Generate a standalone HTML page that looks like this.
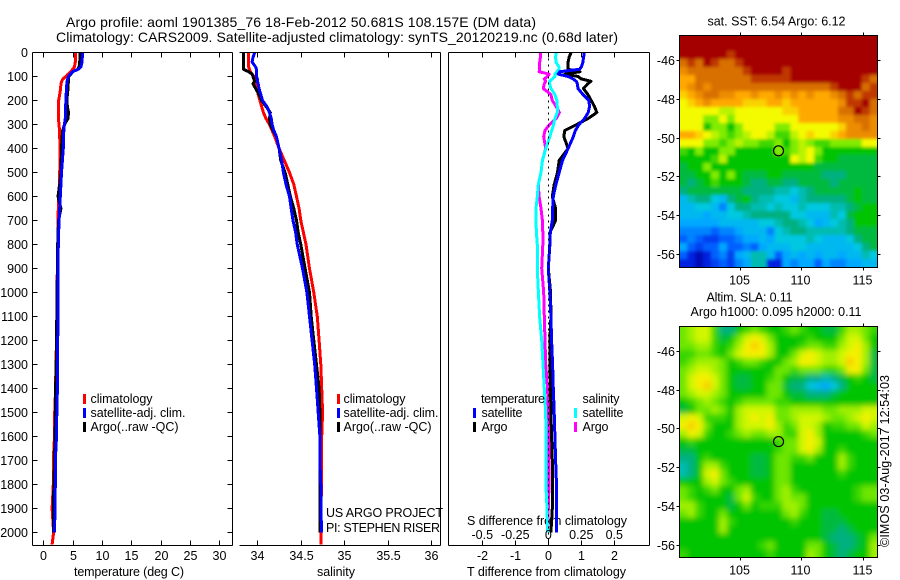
<!DOCTYPE html>
<html lang="en">
<head>
<meta charset="utf-8">
<title>Argo profile 1901385_76</title>
<style>
html,body{margin:0;padding:0;background:#fff;width:900px;height:580px;overflow:hidden}
svg{display:block}
text{font-family:"Liberation Sans",sans-serif;font-size:12.5px;fill:#000}
.axl{shape-rendering:crispEdges;stroke:#000;stroke-width:1;fill:none}
</style>
</head>
<body>
<svg id="fig" xmlns="http://www.w3.org/2000/svg" width="900" height="580" viewBox="0 0 900 580">
<defs>
<clipPath id="clip-sst"><rect x="679.5" y="35.5" width="198" height="232"/></clipPath>
<clipPath id="clip-sla"><rect x="679.5" y="326" width="198" height="231.5"/></clipPath>
<filter id="soft" x="-10%" y="-10%" width="120%" height="120%"><feGaussianBlur stdDeviation="3"/></filter>
<filter id="soft-sst" x="-10%" y="-10%" width="120%" height="120%"><feGaussianBlur stdDeviation="1.6"/></filter>
</defs>
<text x="66" y="27" textLength="470" style="font-size:14px">Argo profile: aoml 1901385_76 18-Feb-2012 50.681S 108.157E (DM data)</text>
<text x="56" y="42" textLength="562" style="font-size:14px">Climatology: CARS2009. Satellite-adjusted climatology: synTS_20120219.nc (0.68d later)</text>

<text x="74" y="576" textLength="110">temperature (deg C)</text>
<text x="317" y="576" textLength="38">salinity</text>
<text x="467" y="576" textLength="159">T difference from climatology</text>
<text x="467" y="525" textLength="160">S difference from climatology</text>

<g id="plots"></g>

<g>
<rect x="83" y="394" width="3" height="10" fill="#f00"/>
<text x="90.5" y="403" textLength="62">climatology</text>
<rect x="83" y="408" width="3" height="10" fill="#00f"/>
<text x="90.5" y="417" textLength="95">satellite-adj. clim.</text>
<rect x="83" y="422" width="3" height="10" fill="#000"/>
<text x="90.5" y="431" textLength="88">Argo(..raw -QC)</text>
</g>
<g>
<rect x="337" y="394" width="3" height="10" fill="#f00"/>
<text x="343.5" y="403" textLength="62">climatology</text>
<rect x="337" y="408" width="3" height="10" fill="#00f"/>
<text x="343.5" y="417" textLength="95">satellite-adj. clim.</text>
<rect x="337" y="422" width="3" height="10" fill="#000"/>
<text x="343.5" y="431" textLength="88">Argo(..raw -QC)</text>
</g>
<text x="326" y="517" textLength="117">US ARGO PROJECT</text>
<text x="326" y="532" textLength="114">PI: STEPHEN RISER</text>
<g>
<text x="481" y="403" textLength="64">temperature</text>
<text x="582.5" y="403" textLength="37">salinity</text>
<rect x="473" y="408" width="3" height="10" fill="#00f"/>
<text x="481.5" y="417" textLength="41">satellite</text>
<rect x="473" y="422" width="3" height="10" fill="#000"/>
<text x="481.5" y="431" textLength="26">Argo</text>
<rect x="574" y="408" width="3" height="10" fill="#0ff"/>
<text x="582.5" y="417" textLength="41">satellite</text>
<rect x="574" y="422" width="3" height="10" fill="#f0f"/>
<text x="582.5" y="431" textLength="26">Argo</text>
</g>

<text x="707.5" y="25.5" textLength="138">sat. SST: 6.54 Argo: 6.12</text>
<text x="706.5" y="301.5" textLength="86">Altim. SLA: 0.11</text>
<text x="690.5" y="316" textLength="171">Argo h1000: 0.095 h2000: 0.11</text>
<g id="maps"></g>
<text transform="translate(889,547) rotate(-90)" x="0" y="0" textLength="172">©IMOS 03-Aug-2017 12:54:03</text>
</svg>

<script>
const depths = [0,20,40,60,70,80,90,100,110,120,130,150,175,200,225,250,275,300,325,350,400,450,500,550,600,650,700,750,800,900,1000,1100,1200,1300,1400,1500,1600,1700,1800,1900,2000,2050];

const tempClim = [5.5,5.5,5.45,5.3,5.0,4.7,4.2,3.85,3.35,3.15,3.0,2.95,2.8,2.6,2.55,2.55,2.55,2.7,2.75,2.8,2.85,2.85,2.8,2.75,2.6,2.55,2.5,2.5,2.45,2.4,2.3,2.3,2.25,2.15,2.1,1.95,1.9,1.7,1.7,1.5,1.75,1.5];
const tempSat = [6.65,6.65,6.6,6.4,5.95,5.0,4.6,4.3,4.15,4.05,4.0,3.95,3.9,3.85,3.8,3.8,3.75,3.6,3.5,3.45,3.4,3.25,3.1,3.0,2.9,2.8,2.7,2.6,2.55,2.5,2.5,2.5,2.45,2.4,2.4,2.3,2.25,2.05,2.05,2.0,1.9,null];
const tempArgo = [6.25,6.25,6.2,6.1,5.9,5.0,4.7,4.3,4.3,4.3,4.25,4.2,4.1,4.0,4.1,4.3,4.2,3.6,3.3,3.2,3.1,3.05,3.0,2.8,2.5,3.0,2.6,2.5,2.45,2.4,2.35,2.3,2.25,2.2,2.1,2.1,2.0,1.9,1.8,1.7,1.7,null];

const salClim = [33.9,33.9,33.9,33.9,33.91,33.92,33.94,33.96,33.97,33.98,33.99,34.0,34.01,34.03,34.05,34.07,34.1,34.14,34.17,34.2,34.25,34.31,34.37,34.42,34.45,34.48,34.5,34.53,34.56,34.6,34.65,34.69,34.71,34.73,34.74,34.75,34.74,34.74,34.74,34.73,34.73,34.73];
const salSat = [33.97,33.95,33.94,33.98,33.99,33.99,33.99,33.99,34.0,34.0,34.01,34.02,34.04,34.06,34.11,34.14,34.16,34.17,34.19,34.22,34.25,34.28,34.3,34.33,34.37,34.39,34.41,34.44,34.46,34.52,34.57,34.6,34.63,34.66,34.68,34.7,34.72,34.72,34.73,34.73,34.74,null];
const salArgo = [33.84,33.84,33.84,33.84,33.84,33.9,33.94,33.95,33.96,33.97,33.95,33.98,34.02,34.05,34.1,34.15,34.14,34.15,34.18,34.22,34.25,34.27,34.32,34.35,34.38,34.42,34.45,34.47,34.5,34.55,34.6,34.62,34.65,34.68,34.71,34.72,34.72,34.72,34.72,34.72,34.72,null];

const tDiffSat = [1.09,1.07,1.05,1.0,0.95,0.35,0.3,0.6,0.75,0.85,0.88,0.9,1.05,1.23,1.25,1.21,1.1,0.93,0.82,0.76,0.6,0.43,0.33,0.23,0.15,0.13,0.12,0.06,0.05,0,0.05,0.08,0.1,0.13,0.15,0.18,0.2,0.22,0.25,0.25,0.25,null];
const tDiffArgo = [0.69,0.63,0.6,0.59,0.6,0.96,0.5,0.9,1.0,1.29,1.2,1.06,1.2,1.3,1.4,1.47,1.21,0.86,0.5,0.47,0.6,0.33,0.28,0.18,0.12,0.22,0.22,0.05,0.05,0,0.07,0.08,0.05,0.05,0.07,0.08,0.1,0.12,0.12,0.12,0.08,null];
const sDiffSat = [0.058,0.055,0.058,0.08,0.08,0.065,0.05,0.05,0.03,0.01,0.01,0.02,0.05,0.065,0.068,0.068,0.05,0.04,0.025,0.0125,-0.018,-0.045,-0.055,-0.076,-0.083,-0.093,-0.093,-0.09,-0.083,-0.083,-0.075,-0.066,-0.05,-0.04,-0.03,-0.02,-0.018,-0.018,-0.018,-0.01,-0.005,null];
const sDiffArgo = [-0.06,-0.06,-0.065,-0.065,-0.065,-0.07,0.005,-0.005,-0.03,-0.02,-0.03,-0.038,0.02,0.03,0.06,0.083,0.06,0.01,-0.025,-0.035,-0.02,-0.045,-0.055,-0.076,-0.07,-0.055,-0.045,-0.042,-0.042,-0.05,-0.035,-0.03,-0.025,-0.02,-0.005,0,0.005,0.005,0.005,0,-0.005,null];

const depthTicks = [0,100,200,300,400,500,600,700,800,900,1000,1100,1200,1300,1400,1500,1600,1700,1800,1900,2000];
const tempTicks = [0,5,10,15,20,25,30];
const salTicks = [34,34.5,35,35.5,36];
const tDiffTicks = [-2,-1,0,1,2];
const sDiffTickLabels = ["-0.5","-0.25","0","0.25","0.5"];
const sDiffTicks = [-0.5,-0.25,0,0.25,0.5];
const lonTicks = [105,110,115];
const latTicks = [-46,-48,-50,-52,-54,-56];
const argoLon = 108.157;
const argoLat = -50.681;

const paletteLevels = ["#000090","#0020e0","#0060ff","#00a8ff","#00c8e0","#00b080","#00c400","#80ec00","#f4fa00","#ffa800","#d87000","#a50000"];

const sstGrid = [
[11,11,11,11,11,11,11,11,11,11,11,11,11,11,11,11,11,11,11,11,11,11,11,11,11],
[11,11,11,11,11,11,11,11,11,11,11,11,11,11,11,11,11,11,11,11,11,11,11,11,11],
[11,11,11,11,11,11,10.5,11,11,11,11,11,11,11,11,11,11,11,11,11,11,11,11,11,11],
[10,10.5,10,11,10.5,10,10,10.5,11,11,11,11,11,11,11,11,11,11,11,11,11,11,11,11,11],
[9.5,10,10,10,10,10,10,10,10.5,11,11,11,11,10.5,11,11,11,11,11,11,11,11,11,11,11],
[9,9,10,10,10,10,10,10,10,10.5,10.5,10.5,10.5,10.5,11,11,11,11,11,11,11,11,11,10.5,10],
[9,9.5,10,9.5,10,10,10,10,10,10,10,10,10,10,10,10,10,10,10,10.5,11,11,11,10,10.5],
[8.5,9,9.5,10,10,9.5,9.5,9,9,9.5,9,9,9.5,9,9.5,9,9.5,9,9,9.5,10,10.5,10,10.5,10.5],
[8,8.5,9,9.5,9,9,9,9,8.5,8.5,8.5,9,9,8.5,9,9,9,9,9,9,9.5,10.5,10.5,11,10],
[8,8,8,8,8,7.5,7.5,8,8,8,8,8,8,8.5,8.5,9,9,9,9,9,10,10,11,10.5,10],
[8,8,8,7,7,8,7,8,8,8,8,8,8,8,8,9,9,9,9,9,9.5,9.5,10,10,9.5],
[8,8,8,6,7,7,6,7,8,8,8,8,7,7,8,8,8,8,8,8,8.5,9.5,9.5,10,9.5],
[9,9,8.5,8,7.5,7,6.5,7,7.5,8,8,7.5,6.5,6.5,7.5,8,8.5,8,8,8.5,9,9.5,9.5,9.5,9.5],
[8,8,8,7,7,6.5,7,7.5,7,7,6.5,6.5,7,6,7,7.5,7,6.5,6.5,7,7,7,7,8,8],
[6.5,6,7,6,6,7,7,6,6,6,6,6,7,6.5,7,7.5,8,7,6,6,6,6,6,6,6],
[6,6,6,6,6.5,7.5,6,6,6,6,6,6,6,6,8,7.5,8,6.5,6,6,5.5,5.5,5.5,5.5,5.5],
[5.5,6,6,7,6,6,6,6,6,6,6,6,6,6,6,6,6,5.5,5.5,5.5,5.5,5.5,5.5,5.5,5.5],
[5.5,5.5,6,6,7,6,7,6,5.5,5.5,5.5,6,6,5.5,5.5,5.5,5.5,5.5,5,5,5,5.5,5.5,5.5,5.5],
[5.5,5,5.5,6,6.5,6,6,6,5.5,5,5,5.5,5.5,5,5,5.5,5.5,5.5,5.5,5,5.5,5.5,5.5,5.5,5.5],
[5,5.5,5.5,5.5,5.5,5.5,5.5,5.5,5,5,5,5,4.5,4.5,4,4.5,5,5.5,5.5,5.5,5.5,5.5,6,5.5,5.5],
[3.5,4.5,5,5,4,3.5,5,5.5,6,5,4.5,4.5,4,4,3.5,4.5,5,5,5,5,5,5.5,6,5.5,5.5],
[3.5,3.5,4,4,3.5,2.5,4,5,5,4.5,4.5,4,4.5,4,4,4.5,4,4,4,4.5,4.5,5,5.5,6,6],
[3.5,3.5,3.5,3,3.5,3.5,4,4,4.5,5,5,5,5,5,4,4,3.5,3.5,3.5,4.5,4,5.5,6,6,6],
[3,3,3,3,3,3.5,3.5,3.5,3.5,3.5,4,4,4.5,5,5,4.5,4,3,3.5,4,4.5,5,6,6,6],
[2.5,2.5,2.5,2.5,2,2.5,2.5,3,3.5,3.5,3.5,2.5,4,4.5,5,5,4.5,4.5,4.5,4.5,4.5,5,5.5,5.5,5.5],
[2,2.5,2,1.5,1.5,2,2,2.5,3,3,3.5,3,4,4,4,4,4.5,4,3.5,3.5,3.5,4,5,5.5,5.5],
[3,2,1.5,2,2,3,2,2,2.5,2,3,3.5,3.5,3.5,4,4,3.5,3.5,3.5,3.5,3.5,3.5,4,5,5.5],
[2,1,0.5,1,2,2.5,1.5,3,3.5,4.5,4.5,3.5,2,3,3.5,3,3.5,3,3.5,3.5,3,3.5,3.5,4.5,4],
[1,1,0.5,1,1.5,2,1.5,2.5,3,4.5,4.5,1,1,3,2.5,3,3,2,3,2.5,2.5,3,3,3.5,3.5]
];

const slaGrid = [
[7,7.5,8,8,6.5,5,5,6,6.5,7,6.5,6,6,6.5,7,6.5,6,6,5.5,5.5,6.5,7.5,7.5,7,6.5],
[7,7.5,8,8,6.5,5.5,6,7,8,8.5,8,7,6,6,6,6,6.5,6,6,6,7,8,8,7,6],
[7,7,7.5,7.5,6.5,6,6.5,7.5,8.5,9,8.5,7.5,6,6,6,6.5,7,7,6.5,6.5,7.5,8,8.5,7.5,6],
[6.5,6.5,7,7,6.5,6,7,8,8.5,8.5,8.5,7.5,6,6,7,8,8.5,8,7.5,7.5,8,8.5,8.5,7.5,5.5],
[6.5,7,7.5,7.5,7.5,7,6,6.5,7,7,6.5,6,6,7,7.5,8.5,8.5,8,7.5,7.5,8,9,8.5,7.5,5.5],
[7,7.5,8,8,7.5,7,6,6,6,6,6,6,7,7,6.5,7,7,7,6.5,6.5,7,8.5,8.5,7,5.5],
[7,8,8.5,8.5,8,7,6,5.5,5.5,6,6,6.5,7,6,5.5,5.5,5,5,4.5,5,5.5,6,6.5,6,5.5],
[7,8,8.5,9,8,7,6,5.5,5.5,6,6,7,7,5.5,5,5,4,3.5,3,4,5,6,6,6,6],
[7,7.5,8,8,7.5,7,6,6,6,6,6,7,7,6,5.5,5.5,5,5,5,5.5,6,6,6,6,6],
[6,6.5,7,7.5,7,6.5,6,6.5,7,7,7,7,6.5,6.5,6,6,6,6,6,6,6,6,6,6,6],
[5.5,6,7,7,7.5,7,6,7.5,8,8,8,8,7,7,7.5,7.5,7.5,7.5,7,7,7.5,7.5,7.5,8,8],
[8,8.5,8,6.5,6.5,6.5,6,7.5,8,8.5,8,8.5,7,7,7.5,8,8,8,7.5,7,7,7.5,8,8.5,8],
[8.5,9,8.5,7,6,6,6,7.5,8,8,8,8.5,7.5,6.5,7,8,8,7.5,6,6.5,6.5,7,7,8,7.5],
[7.5,8.5,8,6.5,6,6,6.5,7,7.5,7,7,7.5,7.5,6.5,6.5,8,8.5,7.5,6,6,6,6,6,6.5,7],
[6,6.5,6,6,6,6,6,6,6,6,6,6,6.5,7,7,8,8.5,8,6,6,6,6,6,6,6],
[5.5,5.5,6,6,6,6,6,6,6,6,6,6,6.5,7,7,8,8.5,7.5,6,6,6.5,6,6,6,6],
[5,5,6,6.5,6,6,6,6,6,5.5,5.5,6,7,7,6.5,6.5,7,6,6,6,7.5,6.5,6,6,6],
[4.5,5,6,7.5,7.5,6.5,6,6,6,5.5,5.5,6,7,7,6,6,6,6,6,6,7.5,6.5,6,6,6],
[4.5,5,6,8,8.5,7,6,6,6,5.5,5.5,6,7,7,6,6,6,6,6,6,6.5,6,6,6,6],
[6,6,6,7.5,8,7,6.5,6,6,6,6,6,7,7,6,6,6,6,6,6,6,6,6,6,6],
[7,6.5,6,6.5,7,6,6,7,7.5,6,6,6,7,7.5,6.5,6,6,6,6,6,6,6,6.5,7,7],
[7,6.5,6,6,6,6,5.5,7,8,6.5,6,6,7,7.5,7,7,6,6,6,6,6,6,6.5,7,7],
[7.5,7.5,6.5,6,6,6,5.5,6,7,6,6.5,6.5,6.5,7.5,7.5,7,6,6,6,6,6,6,6,6,6],
[7,7.5,6.5,6,6,7,6,6,6,6,6,6,6,7,7.5,6.5,6,6,5.5,5.5,6,6,6,6,6],
[6,6,6,6,6,7.5,6.5,6,6,6,6,6,6,6,6.5,6,6,6,5.5,5.5,5.5,6,6,6,6],
[6,6,6,6,6,7.5,6,6,6,6,6,6,6,6,6,6,6,6,5.5,5.5,5,5.5,6,6,6],
[6,6,6,6,6,6,6,6,6,6,6,6,6,6,6,6,6,6,5.5,5,5,5,5.5,6,7],
[6,6,6,6,6,6,6,6,6,6,6.5,7,6,6,6,6,7,7,6,5.5,5,5,5.5,6,7.5],
[6.5,6,6,6,6,6,6,6,6,6,6,6.5,6,6,6,6,7.5,7,6,5.5,5,5.5,6,6,7.5]
];

const NS = 'http://www.w3.org/2000/svg';
const plots = document.getElementById('plots');
const maps = document.getElementById('maps');

function mk(tag, attrs, parent) {
  const el = document.createElementNS(NS, tag);
  for (const k in attrs) el.setAttribute(k, attrs[k]);
  parent.appendChild(el);
  return el;
}
function axisLine(x1, y1, x2, y2, parent, name) {
  const el = mk('line', {x1: x1, y1: y1, x2: x2, y2: y2, 'class': 'axl'}, parent);
  
  
  return el;
}
function label(x, y, str, anchor, parent, name) {
  const el = mk('text', {x: x, y: y, 'text-anchor': anchor}, parent);
  el.textContent = str;
  
  
  return el;
}
function depthY(d) { return 52.5 + d * 0.24; }
function tempX(t) { return 43.3 + t * 5.87; }
function salX(s) { return 257.3 + (s - 34) * 87; }
function tDiffX(t) { return 548.3 + t * 33; }
function sDiffX(s) { return 548.3 + s * 132; }

function profile(values, xFn, color, width, parent, name) {
  const pts = [];
  values.forEach(function (v, i) {
    if (v !== null) pts.push(xFn(v).toFixed(1) + ',' + depthY(depths[i]).toFixed(1));
  });
  const el = mk('polyline', {points: pts.join(' '), fill: 'none', stroke: color, 'stroke-width': width, 'stroke-linejoin': 'round', 'shape-rendering': 'crispEdges'}, parent);
  
  
}

/* panel 1: temperature */
const p1 = mk('g', {}, plots);


profile(tempClim, tempX, '#f00', 3, p1, 'temperature-climatology-line');
profile(tempArgo, tempX, '#000', 3, p1, 'temperature-argo-line');
profile(tempSat, tempX, '#00f', 3, p1, 'temperature-satellite-line');
axisLine(32.5, 52.5, 232.5, 52.5, p1, 'temperature-top-spine');
axisLine(32.5, 545.5, 232.5, 545.5, p1, 'temperature-bottom-spine');
axisLine(32.5, 52.5, 32.5, 545.5, p1, 'temperature-left-spine');
axisLine(232.5, 52.5, 232.5, 545.5, p1, 'temperature-right-spine');
depthTicks.forEach(function (d) {
  const y = Math.round(depthY(d) - 0.5) + 0.5;
  axisLine(32.5, y, 37.5, y, p1, 'depth-tick-left');
  axisLine(227.5, y, 232.5, y, p1, 'depth-tick-right');
  label(28, y + 4.5, String(d), 'end', p1, 'depth-tick-label');
});
tempTicks.forEach(function (t) {
  const x = Math.round(tempX(t)) + 0.5;
  axisLine(x, 52.5, x, 57.5, p1, 'temperature-tick-top');
  axisLine(x, 540.5, x, 545.5, p1, 'temperature-tick-bottom');
  label(x, 560, String(t), 'middle', p1, 'temperature-tick-label');
});

/* panel 2: salinity */
const p2 = mk('g', {}, plots);


profile(salClim, salX, '#f00', 3, p2, 'salinity-climatology-line');
profile(salArgo, salX, '#000', 3, p2, 'salinity-argo-line');
profile(salSat, salX, '#00f', 3, p2, 'salinity-satellite-line');
axisLine(239.5, 52.5, 440.5, 52.5, p2, 'salinity-top-spine');
axisLine(239.5, 545.5, 440.5, 545.5, p2, 'salinity-bottom-spine');
axisLine(440.5, 52.5, 440.5, 545.5, p2, 'salinity-right-spine');
salTicks.forEach(function (s) {
  const x = Math.round(salX(s)) + 0.5;
  axisLine(x, 52.5, x, 57.5, p2, 'salinity-tick-top');
  axisLine(x, 540.5, x, 545.5, p2, 'salinity-tick-bottom');
  label(x, 560, String(s), 'middle', p2, 'salinity-tick-label');
});

/* panel 3: differences */
const p3 = mk('g', {}, plots);


profile(sDiffArgo, sDiffX, '#f0f', 3, p3, 'salinity-difference-argo-line');
profile(sDiffSat, sDiffX, '#0ff', 3, p3, 'salinity-difference-satellite-line');
profile(tDiffArgo, tDiffX, '#000', 3, p3, 'temperature-difference-argo-line');
profile(tDiffSat, tDiffX, '#00f', 3, p3, 'temperature-difference-satellite-line');
const zeroLine = mk('line', {x1: tDiffX(0), y1: 52.5, x2: tDiffX(0), y2: 545.5, stroke: '#000', 'stroke-width': 1, 'stroke-dasharray': '2 4', 'shape-rendering': 'crispEdges'}, p3);


axisLine(448.5, 52.5, 649.5, 52.5, p3, 'difference-top-spine');
axisLine(448.5, 545.5, 649.5, 545.5, p3, 'difference-bottom-spine');
axisLine(448.5, 52.5, 448.5, 545.5, p3, 'difference-left-spine');
axisLine(649.5, 52.5, 649.5, 545.5, p3, 'difference-right-spine');
tDiffTicks.forEach(function (t) {
  const x = Math.round(tDiffX(t)) + 0.5;
  axisLine(x, 52.5, x, 57.5, p3, 'difference-tick-top');
  axisLine(x, 540.5, x, 545.5, p3, 'difference-tick-bottom');
  label(x, 560, String(t), 'middle', p3, 't-difference-tick-label');
});
sDiffTicks.forEach(function (s, i) {
  label(sDiffX(s), 539, sDiffTickLabels[i], 'middle', p3, 's-difference-tick-label');
});

/* maps */
function lonX(lon) { return 739.7 + (lon - 105) * 12.3; }
function sstY(lat) { return 60 + (-46 - lat) * 19.4; }
function slaY(lat) { return 351 + (-46 - lat) * 19.35; }
const gridLon0 = 100.09;
const gridDLon = 0.645;
const gridLat0 = -44.71;
const gridDLat = 0.4124;

function levelColor(v) {
  const lo = Math.max(0, Math.min(paletteLevels.length - 1, Math.floor(v)));
  const hi = Math.min(paletteLevels.length - 1, lo + 1);
  const f = v - lo;
  const a = parseInt(paletteLevels[lo].slice(1), 16);
  const b = parseInt(paletteLevels[hi].slice(1), 16);
  const c = [16, 8, 0].map(function (s) {
    return Math.round(((a >> s) & 255) * (1 - f) + ((b >> s) & 255) * f);
  });
  return 'rgb(' + c.join(',') + ')';
}
function sstColor(v) { return levelColor(v); }
function slaColor(v) { return levelColor(v > 6 ? 6 + (v - 6) * 0.85 : v); }

function drawMap(grid, yFn, top, bottom, clipId, filterId, colorFn, prefix) {
  const g = mk('g', {'clip-path': 'url(#' + clipId + ')'}, maps);
  
  
  const inner = mk('g', {filter: 'url(#' + filterId + ')'}, g);
  
  
  const pad = 20;
  grid.forEach(function (row, r) {
    row.forEach(function (v, c) {
      let x0 = lonX(gridLon0 + c * gridDLon);
      let x1 = lonX(gridLon0 + (c + 1) * gridDLon);
      let y0 = yFn(gridLat0 - r * gridDLat);
      let y1 = yFn(gridLat0 - (r + 1) * gridDLat);
      if (c === 0) x0 -= pad;
      if (c === row.length - 1) x1 += pad;
      if (r === 0) y0 -= pad;
      if (r === grid.length - 1) y1 += pad;
      const cell = mk('rect', {x: x0.toFixed(2), y: y0.toFixed(2), width: (x1 - x0 + 0.4).toFixed(2), height: (y1 - y0 + 0.4).toFixed(2), fill: colorFn(v)}, inner);
      
      
    });
  });
  const frame = mk('rect', {x: 679.5, y: top, width: 198, height: bottom - top, fill: 'none', stroke: '#000', 'stroke-width': 1, 'shape-rendering': 'crispEdges'}, maps);
  
  
  lonTicks.forEach(function (lon) {
    const x = Math.round(lonX(lon)) + 0.5;
    axisLine(x, top - 3, x, top, maps, prefix + '-lon-tick-top');
    axisLine(x, bottom, x, bottom + 3, maps, prefix + '-lon-tick-bottom');
    label(x - 1, bottom + 17, String(lon), 'middle', maps, prefix + '-lon-tick-label');
  });
  latTicks.forEach(function (lat) {
    const y = Math.round(yFn(lat)) + 0.5;
    axisLine(676.5, y, 679.5, y, maps, prefix + '-lat-tick-left');
    axisLine(877.5, y, 880.5, y, maps, prefix + '-lat-tick-right');
    label(675, y + 4.5, String(lat), 'end', maps, prefix + '-lat-tick-label');
  });
  const marker = mk('circle', {cx: lonX(argoLon), cy: yFn(argoLat), r: 5, fill: 'none', stroke: '#000', 'stroke-width': 1.2}, maps);
  
  
}
drawMap(sstGrid, sstY, 35.5, 267.5, 'clip-sst', 'soft-sst', sstColor, 'sst');
drawMap(slaGrid, slaY, 326.5, 557.5, 'clip-sla', 'soft', slaColor, 'sla');
</script>
</body>
</html>
